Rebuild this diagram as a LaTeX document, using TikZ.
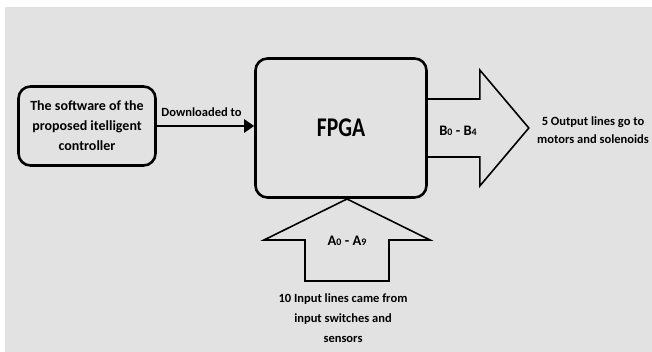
\documentclass[tikz,border=0pt]{standalone}
\usepackage{fontspec}
\setmainfont{Carlito}
\newfontfamily\fpgafont[FakeStretch=0.8]{Carlito}
\usetikzlibrary{arrows.meta,calc}
\definecolor{bg}{HTML}{E2E2E2}
\newcommand{\idx}[1]{\raisebox{-0.5pt}{\fontsize{10}{10}\selectfont #1}}

\begin{document}
\begin{tikzpicture}[x=1pt,y=1pt,
    every node/.style={font=\bfseries\fontsize{12.5}{18}\selectfont,align=center,inner sep=0pt},
    blk/.style={draw,line width=2.6pt,rounded corners=12pt},
    fat/.style={draw,line width=1.6pt,line join=miter},
    sig/.style={font=\bfseries\fontsize{14.5}{16}\selectfont}]
  \useasboundingbox (0,0) rectangle (652,352);
  \fill[bg] (5,0) rectangle (652,345);
  \node[blk,minimum width=137pt,minimum height=79pt,font=\bfseries\fontsize{14}{20}\selectfont] (sw) at (87,226)
    {The software of the\\proposed itelligent\\controller};
  \node[blk,minimum width=171pt,minimum height=139pt] (fpga) at (341,224) {\fpgafont\bfseries\fontsize{27}{27}\selectfont FPGA};
  \draw[line width=2.4pt,-{Triangle[length=10pt,width=13pt]}] (sw.east) -- (sw.east -| fpga.west)
    node[midway,above=8pt,xshift=-4pt] (dl) {Downloaded to};
  % output arrow
  \draw[fat] ($(fpga.east)+(0,29)$) -- ++(52,0) -- ++(0,29) -- ++(49,-58) -- ++(-49,-58) -- ++(0,29) -- ++(-52,0);
  \node[sig] (bl) at (458,221) {B\idx{0} - B\idx{4}};
  \node (outl) at (593,222) {5 Output lines go to\\motors and solenoids};
  % input arrow
  \coordinate (tip) at (347,153);
  \draw[fat] (tip) -- ++(-83,-41) -- ++(41,0) -- ++(0,-41) -- ++(84,0) -- ++(0,41) -- ++(41,0) -- cycle;
  \node[sig] (al) at (347,111) {A\idx{0} - A\idx{9}};
  \node[font=\bfseries\fontsize{12.5}{20}\selectfont] (inl) at (343,34) {10 Input lines came from\\input switches and\\sensors};
\end{tikzpicture}
\end{document}
